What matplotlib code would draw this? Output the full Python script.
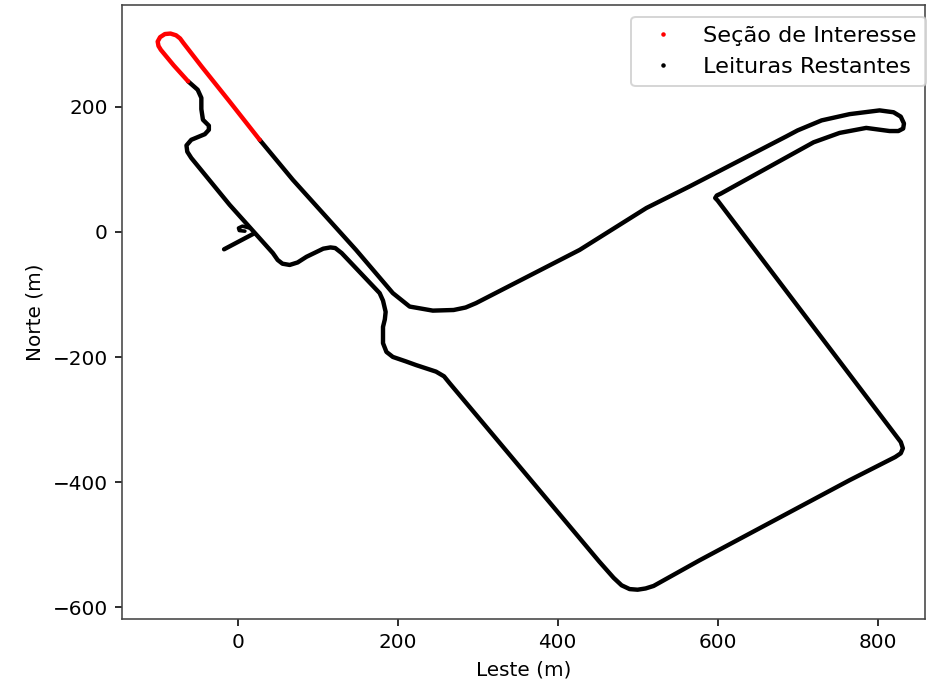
import matplotlib
matplotlib.use("Agg")
import matplotlib.pyplot as plt
from matplotlib.lines import Line2D

# Section of interest (red), from outer straight end, around hairpin, to inner side
red_east = [27.5, -10, -45, -68, -72, -77, -84, -91, -97, -100, -99, -96, -80, -62]
red_north = [147, 208, 264, 302, 309, 314, 316.8, 316, 311, 304, 297, 290.7, 266, 240.5]

# Remaining readings (black), closed loop from inner end back to outer end
blk_east = [-62, -50, -45.4, -45.4, -43.4, -36, -36, -41, -58, -64, -63, -58,
            -10, 44, 50, 56, 65, 75, 86, 107, 116, 122, 130, 177.5,
            181.7, 185, 184, 181.7, 181.7, 186, 194, 210, 223, 248, 258, 265,
            452, 470, 480, 490, 500, 510, 520, 577.5, 765, 822, 829, 831.6, 829,
            600, 597, 599, 604, 720, 752.5, 785.8, 815, 826, 832, 833, 829,
            820, 802.5, 765, 730, 700, 686, 565, 511, 427.5, 298, 285, 270, 244, 215,
            194, 148, 69, 27.5]
blk_north = [240.5, 227, 214, 196, 179, 169.6, 163, 156, 147, 138, 128, 118,
             43, -34, -45, -51, -53, -49, -40, -27, -25, -26, -34, -98,
             -110, -128, -140, -152, -178, -192, -200, -207, -213, -223.5, -231, -242,
             -527, -553, -565, -571, -572, -570, -566, -525, -397, -360, -354, -346, -336,
             50, 54, 58, 61, 143, 158, 166, 161, 161, 165, 173, 184,
             191, 194, 188, 178, 162, 152.5, 72.5, 38, -29, -114, -121, -125, -126, -119.5,
             -98, -29, 83, 147]

# Small spur near the origin
spur_east = [-17, 20]
spur_north = [-28, -3]
hook_east = [15, 6, 1, 2, 9]
hook_north = [6, 9, 6, 2, 1]

plt.rcParams["font.family"] = ["DejaVu Sans"]
fig = plt.figure(figsize=(6.5, 4.8), dpi=144)
ax = fig.add_axes([0.130, 0.104, 0.858, 0.889])

kw = dict(lw=2.2, solid_capstyle="round", solid_joinstyle="round")
ax.plot(blk_east, blk_north, color="black", **kw)
ax.plot(spur_east, spur_north, color="black", **kw)
ax.plot(hook_east, hook_north, color="black", lw=1.8, solid_capstyle="round", solid_joinstyle="round")
ax.plot(red_east, red_north, color="red", **kw)

ax.set_xlim(-145, 859)
ax.set_ylim(-619, 363)
ax.set_xticks([0, 200, 400, 600, 800])
ax.set_yticks([-600, -400, -200, 0, 200])
ax.set_xlabel("Leste (m)")
ax.set_ylabel("Norte (m)")
for s in ax.spines.values():
    s.set_color("#444444")

handles = [Line2D([], [], marker=".", markersize=2.5, linestyle="", color="red"),
           Line2D([], [], marker=".", markersize=2.5, linestyle="", color="black")]
ax.legend(handles, ["Seção de Interesse", "Leituras Restantes"], loc="upper right",
          bbox_to_anchor=(1.001, 0.980), borderaxespad=0, fontsize=11.2)

fig.savefig("out.png", dpi=144)
